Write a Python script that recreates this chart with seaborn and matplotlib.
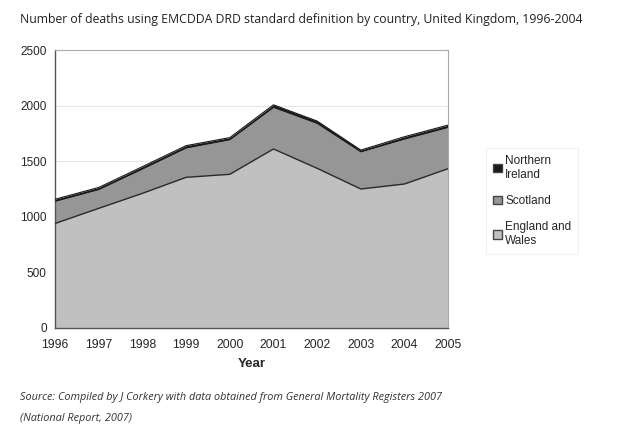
import numpy as np
import pandas as pd
import matplotlib
matplotlib.use("Agg")
import matplotlib.pyplot as plt
import seaborn as sns
from matplotlib.patches import Patch

years = [1996, 1997, 1998, 1999, 2000, 2001, 2002, 2003, 2004, 2005]
england_wales = [940, 1076, 1211, 1355, 1382, 1610, 1436, 1250, 1295, 1433]
scotland = [200, 170, 220, 265, 312, 375, 405, 335, 405, 372]
northern_ireland = [18, 18, 20, 20, 18, 22, 20, 15, 20, 20]
series_names = ["England and\nWales", "Scotland", "Northern\nIreland"]
y_ticks = [0, 500, 1000, 1500, 2000, 2500]

sns.set_style("white")
plt.rcParams['font.family'] = ['Liberation Sans', 'DejaVu Sans']

fig = plt.figure(figsize=(6.33, 4.33), dpi=100)
ax = fig.add_axes([0.087, 0.2425, 0.621, 0.642])

ew = np.array(england_wales)
sc = ew + np.array(scotland)
ni = sc + np.array(northern_ireland)
df = pd.DataFrame({"year": years, "ew": ew, "sc": sc, "ni": ni})

colors = ["#c0c0c0", "#969696", "#1a1a1a"]
ax.fill_between(df["year"], 0, df["ew"], color=colors[0], lw=0, zorder=2)
ax.fill_between(df["year"], df["ew"], df["sc"], color=colors[1], lw=0, zorder=2)
ax.fill_between(df["year"], df["sc"], df["ni"], color=colors[2], lw=0, zorder=2)
sns.lineplot(data=df, x="year", y="ew", ax=ax, color="#2a2a2a", lw=1.0, zorder=3)
sns.lineplot(data=df, x="year", y="sc", ax=ax, color="#1a1a1a", lw=0.8, zorder=3)
sns.lineplot(data=df, x="year", y="ni", ax=ax, color="#1a1a1a", lw=0.8, zorder=3)

ax.set_xlim(1996, 2005)
ax.set_ylim(0, 2500)
ax.set_yticks(y_ticks)
ax.set_xticks(years)
ax.set_yticklabels([str(v) for v in y_ticks], fontsize=8.5)
ax.set_xticklabels([str(y) for y in years], fontsize=8.8)
ax.yaxis.grid(True, color="#e6e6e6", lw=0.8, zorder=0)
ax.set_axisbelow(True)
ax.tick_params(axis="x", which="major", direction="out", length=3, color="#888888", pad=5)
ax.tick_params(axis="y", length=0, pad=6)
for s in ["top", "right"]:
    ax.spines[s].set_color("#aaaaaa")
    ax.spines[s].set_linewidth(0.8)
for s in ["left", "bottom"]:
    ax.spines[s].set_color("#555555")
    ax.spines[s].set_linewidth(1.0)
ax.set_xlabel("Year", fontsize=9.5, fontweight="bold", labelpad=5)
ax.set_ylabel("")

handles = [Patch(facecolor=colors[2], edgecolor="#444444", label=series_names[2]),
           Patch(facecolor=colors[1], edgecolor="#444444", label=series_names[1]),
           Patch(facecolor=colors[0], edgecolor="#444444", label=series_names[0])]
leg = fig.legend(handles=handles, loc="upper left", bbox_to_anchor=(0.759, 0.672),
                 frameon=True, fontsize=8.5, handlelength=0.7, handleheight=0.7,
                 handletextpad=0.3, labelspacing=1.2, borderpad=0.6, fancybox=False)
leg.get_frame().set_edgecolor("#eeeeee")
leg.get_frame().set_linewidth(0.8)

fig.text(0.032, 0.955, "Number of deaths using EMCDDA DRD standard definition by country, United Kingdom, 1996-2004",
         fontsize=8.8, color="#222222", va="center", ha="left", family=["Open Sans", "DejaVu Sans"])
fig.text(0.032, 0.081, "Source: Compiled by J Corkery with data obtained from General Mortality Registers 2007",
         fontsize=7.8, style="italic", color="#333333", va="center", ha="left", family=["Open Sans", "DejaVu Sans"])
fig.text(0.032, 0.034, "(National Report, 2007)",
         fontsize=7.8, style="italic", color="#333333", va="center", ha="left", family=["Open Sans", "DejaVu Sans"])

fig.savefig("out.png", dpi=100)
